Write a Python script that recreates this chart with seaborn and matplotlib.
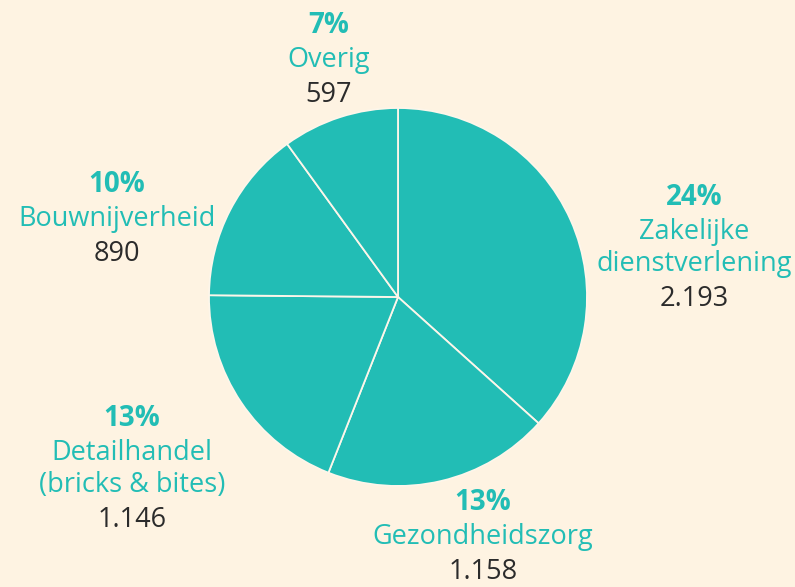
import matplotlib
matplotlib.use("Agg")
import matplotlib.pyplot as plt
import seaborn as sns

# sectoren, aantallen en aandeel
sectors = ["Zakelijke\ndienstverlening", "Gezondheidszorg", "Detailhandel\n(bricks & bites)",
           "Bouwnijverheid", "Overig"]
counts = [2193, 1158, 1146, 890, 597]
count_labels = ["2.193", "1.158", "1.146", "890", "597"]
shares = ["24%", "13%", "13%", "10%", "7%"]

# plek van de labels: midden x en basislijn van het percentage, in pixels
label_px = [(694, 205), (483, 510), (132, 426), (117, 192), (329, 33)]

sns.set_theme(style="white")
plt.rcParams["font.family"] = ["Open Sans", "DejaVu Sans"]

teal = "#22bdb5"
bg = "#fef3e2"
R = 189  # straal in pixels
cx, cy = 398, 297

fig = plt.figure(figsize=(7.95, 5.87), dpi=100, facecolor=bg)
ax = fig.add_axes([(cx - R) / 795, (587 - cy - R) / 587, 2 * R / 795, 2 * R / 587])
ax.set_facecolor(bg)

ax.pie(counts, startangle=90, counterclock=False, radius=1,
       colors=[teal] * len(counts),
       wedgeprops=dict(edgecolor="#fdf6ea", linewidth=1.3))
ax.set_xlim(-1, 1)
ax.set_ylim(-1, 1)
ax.set_aspect("equal")
ax.axis("off")

for name, share, cnt, (px, py) in zip(sectors, shares, count_labels, label_px):
    x = (px - cx) / R
    y = (cy - py) / R
    ax.text(x, y, share, ha="center", va="baseline", fontsize=20, fontweight="bold",
            color=teal, clip_on=False)
    y -= 34 / R
    for i, part in enumerate(name.split("\n")):
        if i > 0:
            y -= 32 / R
        ax.text(x, y, part, ha="center", va="baseline", fontsize=19.5,
                color=teal, clip_on=False)
    y -= 35 / R
    ax.text(x, y, cnt, ha="center", va="baseline", fontsize=19.5, color="#2b2b2b",
            clip_on=False)

fig.savefig("out.png", dpi=100, facecolor=bg)
